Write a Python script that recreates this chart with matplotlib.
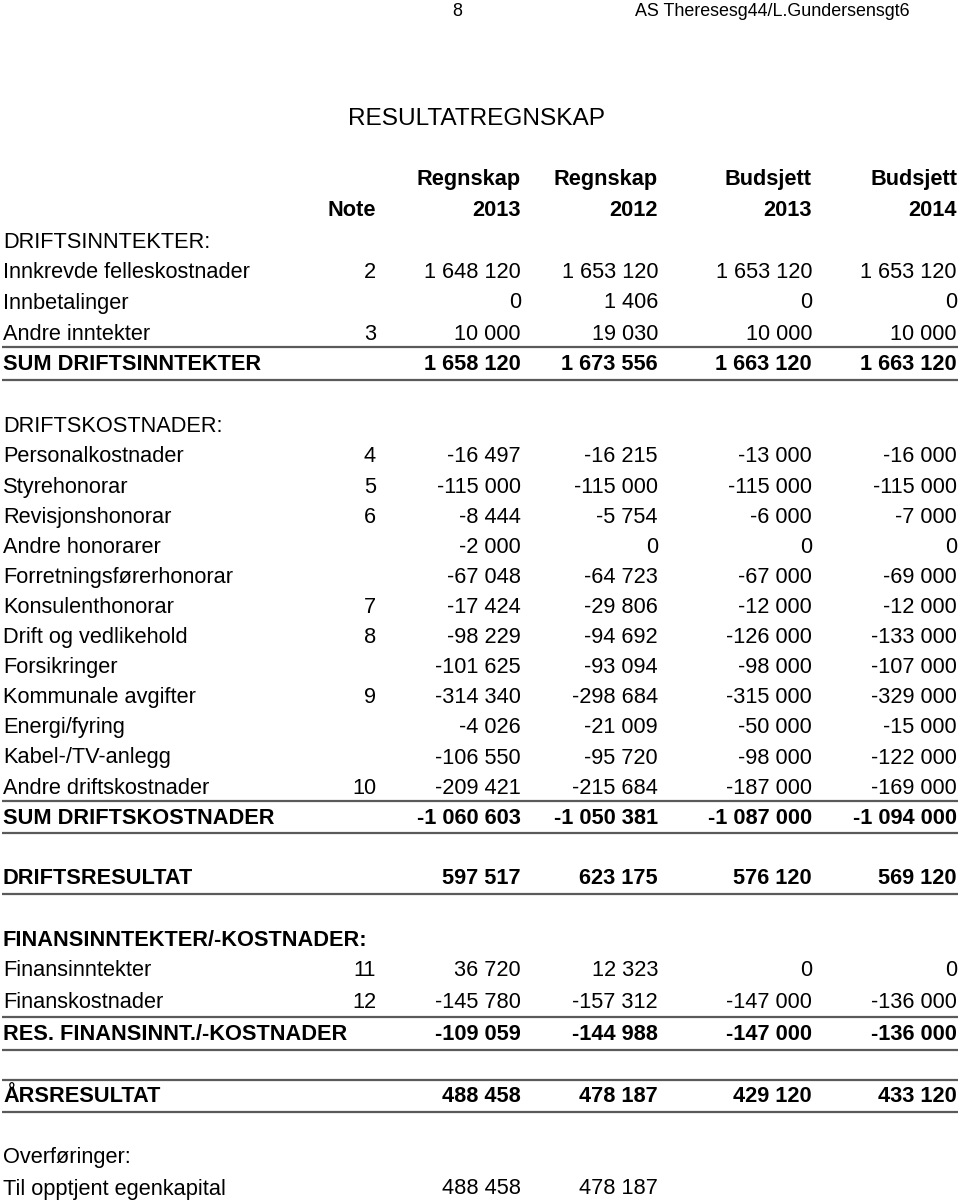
import matplotlib
matplotlib.use("Agg")
import matplotlib.pyplot as plt

plt.rcParams['font.family'] = ['Liberation Sans', 'DejaVu Sans']

# ---- data ----
page_number = "8"
page_header = "AS Theresesg44/L.Gundersensgt6"
title = "RESULTATREGNSKAP"
col_types = ["Regnskap", "Regnskap", "Budsjett", "Budsjett"]
col_years = ["2013", "2012", "2013", "2014"]
note_header = "Note"

labels = [
    "DRIFTSINNTEKTER:", "Innkrevde felleskostnader", "Innbetalinger", "Andre inntekter",
    "SUM DRIFTSINNTEKTER",
    "DRIFTSKOSTNADER:", "Personalkostnader", "Styrehonorar", "Revisjonshonorar",
    "Andre honorarer", "Forretningsførerhonorar", "Konsulenthonorar", "Drift og vedlikehold",
    "Forsikringer", "Kommunale avgifter", "Energi/fyring", "Kabel-/TV-anlegg",
    "Andre driftskostnader", "SUM DRIFTSKOSTNADER",
    "DRIFTSRESULTAT",
    "FINANSINNTEKTER/-KOSTNADER:", "Finansinntekter", "Finanskostnader",
    "RES. FINANSINNT./-KOSTNADER",
    "ÅRSRESULTAT",
    "Overføringer:", "Til opptjent egenkapital",
]
notes = ["", "2", "", "3", "",
         "", "4", "5", "6", "", "", "7", "8", "", "9", "", "", "10", "",
         "", "", "11", "12", "", "", "", ""]
regnskap_2013 = [None, 1648120, 0, 10000, 1658120,
                 None, -16497, -115000, -8444, -2000, -67048, -17424, -98229, -101625,
                 -314340, -4026, -106550, -209421, -1060603,
                 597517, None, 36720, -145780, -109059, 488458, None, 488458]
regnskap_2012 = [None, 1653120, 1406, 19030, 1673556,
                 None, -16215, -115000, -5754, 0, -64723, -29806, -94692, -93094,
                 -298684, -21009, -95720, -215684, -1050381,
                 623175, None, 12323, -157312, -144988, 478187, None, 478187]
budsjett_2013 = [None, 1653120, 0, 10000, 1663120,
                 None, -13000, -115000, -6000, 0, -67000, -12000, -126000, -98000,
                 -315000, -50000, -98000, -187000, -1087000,
                 576120, None, 0, -147000, -147000, 429120, None, None]
budsjett_2014 = [None, 1653120, 0, 10000, 1663120,
                 None, -16000, -115000, -7000, 0, -69000, -12000, -133000, -107000,
                 -329000, -15000, -122000, -169000, -1094000,
                 569120, None, 0, -136000, -136000, 433120, None, None]
bold_rows = {"SUM DRIFTSINNTEKTER", "SUM DRIFTSKOSTNADER", "DRIFTSRESULTAT",
             "FINANSINNTEKTER/-KOSTNADER:", "RES. FINANSINNT./-KOSTNADER", "ÅRSRESULTAT"}

# ---- layout ----
W, H = 960, 1203
fig = plt.figure(figsize=(W / 100, H / 100), dpi=100)
ax = fig.add_axes([0, 0, 1, 1])
ax.set_xlim(0, W)
ax.set_ylim(H, 0)
ax.axis("off")

row_y = [242, 273, 303, 334, 365,
         426] + [457 + 30.1 * k for k in range(13)] + [879, 941, 971, 1002, 1034, 1097, 1158, 1189]
line_y = [347, 380, 801, 833, 894, 1017, 1050, 1080, 1112]

label_x = 3
note_x = 376
col_x = [521, 658, 812, 957]
fs = 15.7


def fmt(v):
    if v is None:
        return ""
    s = f"{abs(v):,}".replace(",", " ")
    return ("-" if v < 0 else "") + s


ax.text(457, 11, page_number, ha="center", va="center", fontsize=12.9)
ax.text(635, 11, page_header, ha="left", va="center", fontsize=12.9)
ax.text(348, 119, title, ha="left", va="center", fontsize=17.6)

for x, t, y in zip(col_x, col_types, col_years):
    ax.text(x, 180, t, ha="right", va="center", fontsize=fs, fontweight="bold")
    ax.text(x, 211, y, ha="right", va="center", fontsize=fs, fontweight="bold")
ax.text(note_x, 211, note_header, ha="right", va="center", fontsize=fs, fontweight="bold")

cols = [regnskap_2013, regnskap_2012, budsjett_2013, budsjett_2014]
for i, lab in enumerate(labels):
    y = row_y[i]
    w = "bold" if lab in bold_rows else "normal"
    ax.text(label_x, y, lab, ha="left", va="center", fontsize=fs, fontweight=w)
    if notes[i]:
        ax.text(note_x, y, notes[i], ha="right", va="center", fontsize=fs)
    for x, col in zip(col_x, cols):
        v = col[i]
        if v is not None:
            ax.text(x, y, fmt(v), ha="right", va="center", fontsize=fs, fontweight=w)

ax.hlines(line_y, 2, 958, colors="#5a5a5a", linewidth=1.6)

fig.savefig("out.png", dpi=100)
